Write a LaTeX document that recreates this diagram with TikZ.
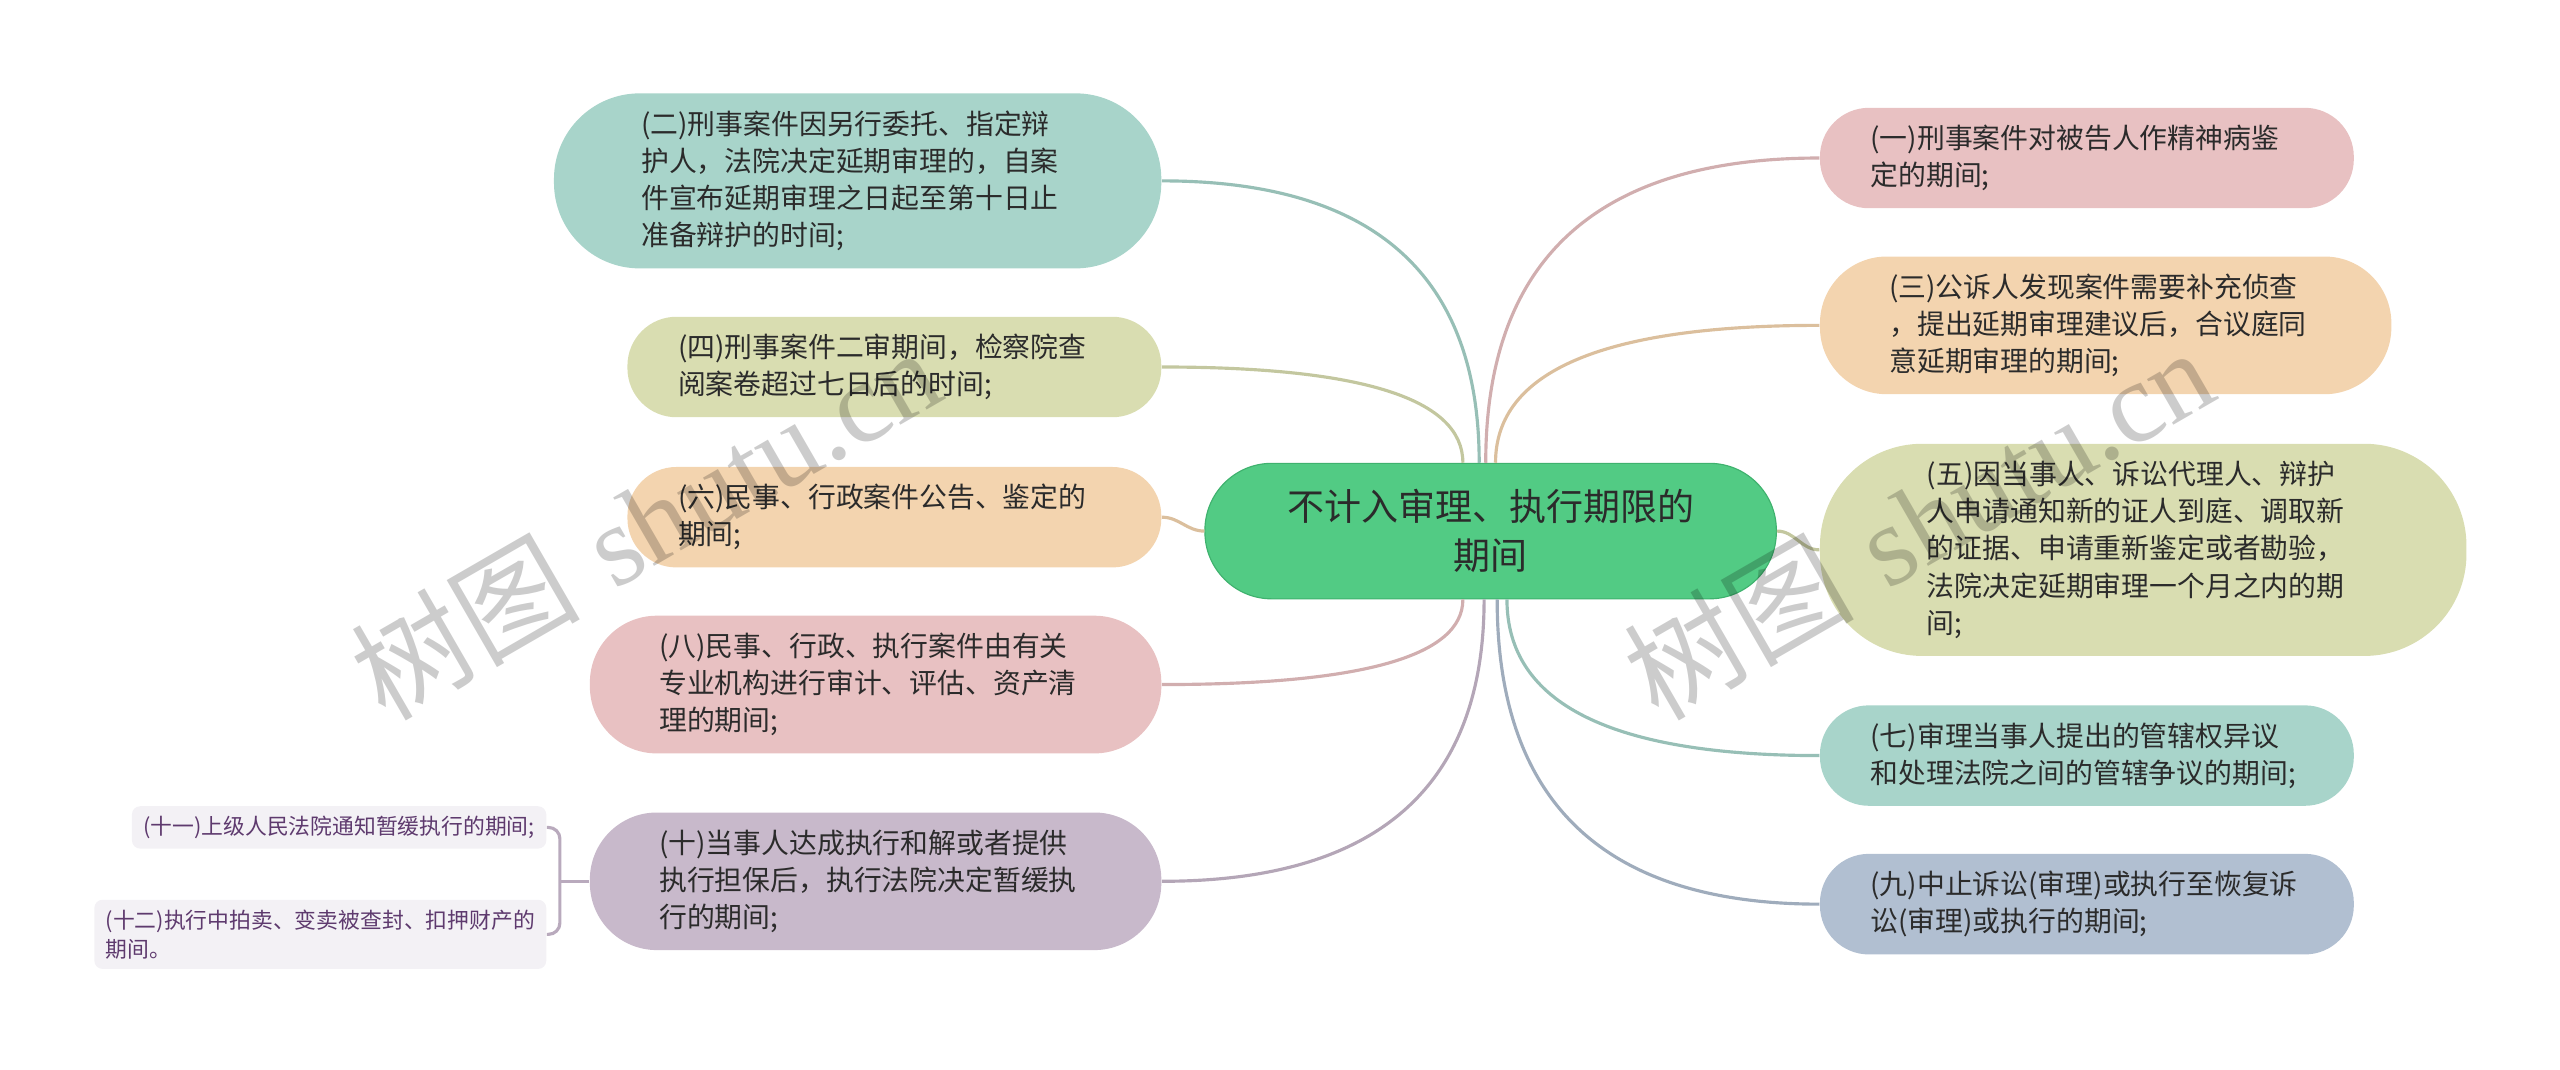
\documentclass[tikz,border=0pt]{standalone}
\usepackage{fontspec}
\usetikzlibrary{positioning, calc}
\newfontfamily\cjkfont{Noto Sans CJK SC}
\newfontfamily\wmserif{Liberation Serif}

\definecolor{rootgreen}{HTML}{52CB84}
\definecolor{rootedge}{HTML}{3FB26E}
\definecolor{tealfill}{HTML}{A8D4CA}
\definecolor{olivefill}{HTML}{D9DDB1}
\definecolor{peachfill}{HTML}{F3D4AF}
\definecolor{pinkfill}{HTML}{E8C1C2}
\definecolor{mauvefill}{HTML}{C8B9CB}
\definecolor{bluefill}{HTML}{B1BFD1}
\definecolor{leaffill}{HTML}{F3F1F5}
\definecolor{leaftext}{HTML}{5E3A6E}
\definecolor{leafline}{HTML}{B9AABD}
\definecolor{bodytext}{HTML}{2B2B2B}

\tikzset{
    rootnode/.style={rectangle, draw=rootedge, fill=rootgreen, rounded corners=0.82cm, minimum width=7cm, minimum height=1.66cm, align=center, text=bodytext, font=\cjkfont\fontsize{12.9}{17}\selectfont},
    branchnode/.style={rectangle, text width=5.3cm, align=left, inner ysep=0.21cm, text=bodytext, font=\cjkfont\fontsize{9.7}{13}\selectfont},
    tealnode/.style={branchnode, fill=tealfill},
    olivenode/.style={branchnode, fill=olivefill},
    peachnode/.style={branchnode, fill=peachfill},
    pinknode/.style={branchnode, fill=pinkfill},
    mauvenode/.style={branchnode, fill=mauvefill},
    bluenode/.style={branchnode, fill=bluefill},
    leafnode/.style={rectangle, fill=leaffill, rounded corners=0.1cm, align=left, inner xsep=0.14cm, inner ysep=0.12cm, text=leaftext, font=\cjkfont\fontsize{7.6}{10.2}\selectfont},
    mindcurve/.style={to path={.. controls ($(\tikztostart)!0.667!(\tikztostart |- \tikztotarget)$) and ($(\tikztotarget)!0.667!(\tikztostart |- \tikztotarget)$) .. (\tikztotarget) \tikztonodes}},
    branchline/.style={line width=1.1pt, draw=#1!90!black},
    sideline/.style={line width=1.1pt, draw=leafline},
    watermark/.style={rotate=30, text=black, text opacity=0.2, font=\fontsize{40}{40}\selectfont}
}

\begin{document}
\begin{tikzpicture}[node distance=0.52cm]

        \useasboundingbox (0,0) rectangle (31.36,13.096);

        % ------------------
        % nodes
        % ------------------

        \node[rootnode] (root) at (18.26,6.59) {不计入审理、执行期限的\\期间};

        \node[tealnode, minimum width=7.44cm, rounded corners=1.05cm, left=of root, yshift=4.29cm] (period2) {(二)刑事案件因另行委托、指定辩\\护人，法院决定延期审理的，自案\\件宣布延期审理之日起至第十日止\\准备辩护的时间;};
        \node[olivenode, minimum width=6.54cm, rounded corners=0.6cm, left=of root, yshift=2.01cm] (period4) {(四)刑事案件二审期间，检察院查\\阅案卷超过七日后的时间;};
        \node[peachnode, minimum width=6.54cm, rounded corners=0.6cm, left=of root, yshift=0.17cm] (period6) {(六)民事、行政案件公告、鉴定的\\期间;};
        \node[pinknode, minimum width=7.0cm, rounded corners=0.82cm, left=of root, yshift=-1.88cm] (period8) {(八)民事、行政、执行案件由有关\\专业机构进行审计、评估、资产清\\理的期间;};
        \node[mauvenode, minimum width=7.0cm, rounded corners=0.82cm, left=of root, yshift=-4.29cm] (period10) {(十)当事人达成执行和解或者提供\\执行担保后，执行法院决定暂缓执\\行的期间;};

        \node[pinknode, minimum width=6.54cm, rounded corners=0.6cm, right=of root, yshift=4.57cm] (period1) {(一)刑事案件对被告人作精神病鉴\\定的期间;};
        \node[peachnode, minimum width=7.0cm, rounded corners=0.82cm, right=of root, yshift=2.52cm] (period3) {(三)公诉人发现案件需要补充侦查\\，提出延期审理建议后，合议庭同\\意延期审理的期间;};
        \node[olivenode, minimum width=7.92cm, rounded corners=1.25cm, right=of root, yshift=-0.23cm] (period5) {(五)因当事人、诉讼代理人、辩护\\人申请通知新的证人到庭、调取新\\的证据、申请重新鉴定或者勘验，\\法院决定延期审理一个月之内的期\\间;};
        \node[tealnode, minimum width=6.54cm, rounded corners=0.6cm, right=of root, yshift=-2.75cm] (period7) {(七)审理当事人提出的管辖权异议\\和处理法院之间的管辖争议的期间;};
        \node[bluenode, minimum width=6.54cm, rounded corners=0.6cm, right=of root, yshift=-4.57cm] (period9) {(九)中止诉讼(审理)或执行至恢复诉\\讼(审理)或执行的期间;};

        \node[leafnode, left=of period10, yshift=0.66cm] (period11) {(十一)上级人民法院通知暂缓执行的期间;};
        \node[leafnode, left=of period10, yshift=-0.65cm] (period12) {(十二)执行中拍卖、变卖被查封、扣押财产的\\期间。};
        \coordinate[left=0.36cm of period10.west] (fork);

        % ------------------
        % connectors
        % ------------------

        \draw[branchline=tealfill, mindcurve] ([xshift=-0.14cm]root.north) to (period2.east);
        \draw[branchline=olivefill, mindcurve] ([xshift=-0.34cm]root.north) to (period4.east);
        \draw[branchline=peachfill] (root.west) to[out=180, in=0] (period6.east);
        \draw[branchline=pinkfill, mindcurve] ([xshift=-0.34cm]root.south) to (period8.east);
        \draw[branchline=mauvefill, mindcurve] ([xshift=-0.08cm]root.south) to (period10.east);

        \draw[branchline=pinkfill, mindcurve] ([xshift=-0.06cm]root.north) to (period1.west);
        \draw[branchline=peachfill, mindcurve] ([xshift=0.06cm]root.north) to (period3.west);
        \draw[branchline=olivefill] (root.east) to[out=0, in=180] (period5.west);
        \draw[branchline=tealfill, mindcurve] ([xshift=0.2cm]root.south) to (period7.west);
        \draw[branchline=bluefill, mindcurve] ([xshift=0.08cm]root.south) to (period9.west);

        \draw[sideline] (period10.west) -- (fork);
        \draw[sideline, rounded corners=0.14cm] (period11.east) -| (fork) |- (period12.east);

        % ------------------
        % watermark
        % ------------------

        \node[watermark] (markleft) at (7.9,6.7) {{\cjkfont 树图} {\wmserif shutu.cn}};
        \node[watermark] (markright) at (23.5,6.7) {{\cjkfont 树图} {\wmserif shutu.cn}};

    \end{tikzpicture}
\end{document}
